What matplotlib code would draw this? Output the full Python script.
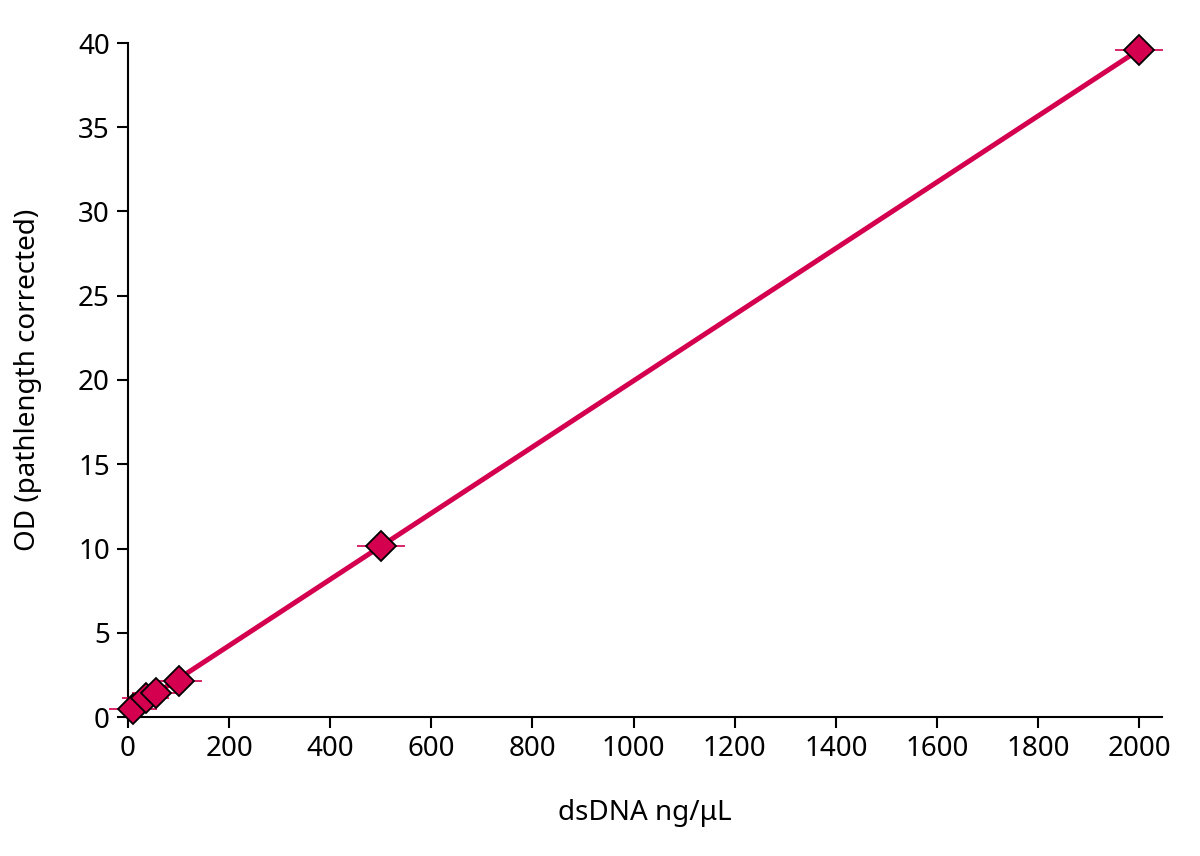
import matplotlib
matplotlib.use("Agg")
import matplotlib.pyplot as plt
import numpy as np

plt.rcParams['font.family'] = ['Noto Sans', 'DejaVu Sans']

conc = [10, 35, 55, 100, 500, 2000]
od = [0.45, 1.1, 1.45, 2.15, 10.15, 39.6]
conc_err = [47, 47, 47, 47, 47, 47]
xticks = [0, 200, 400, 600, 800, 1000, 1200, 1400, 1600, 1800, 2000]
yticks = [0, 5, 10, 15, 20, 25, 30, 35, 40]

col = '#D4004F'
fig = plt.figure(figsize=(12, 8.56), dpi=100)
ax = fig.add_axes([128/1200, 1-717/856, (1162-128)/1200, (717-43)/856])

slope, icpt = np.polyfit(conc, od, 1)
xl = np.array([0, max(conc)])
ax.plot(xl, slope*xl + icpt, color=col, lw=3.6, zorder=2, solid_capstyle='butt')
ax.errorbar(conc, od, xerr=conc_err, fmt='none', ecolor=col, elinewidth=1.2,
            capsize=0, zorder=3, clip_on=False)
ax.plot(conc, od, 'D', ms=15, mfc=col, mec='black', mew=1.3, zorder=4, clip_on=False)

ax.set_xlim(0, 2045)
ax.set_ylim(0, 40)
ax.set_xticks(xticks)
ax.set_yticks(yticks)
for s in ['top', 'right']:
    ax.spines[s].set_visible(False)
for s in ['left', 'bottom']:
    ax.spines[s].set_linewidth(1.5)
ax.tick_params(axis='both', direction='out', length=8, width=1.5, labelsize=20, pad=5)
ax.set_xlabel('dsDNA ng/μL', fontsize=20, labelpad=26)
ax.set_ylabel('OD (pathlength corrected)', fontsize=20, labelpad=26)
fig.savefig('out.png', dpi=100)
